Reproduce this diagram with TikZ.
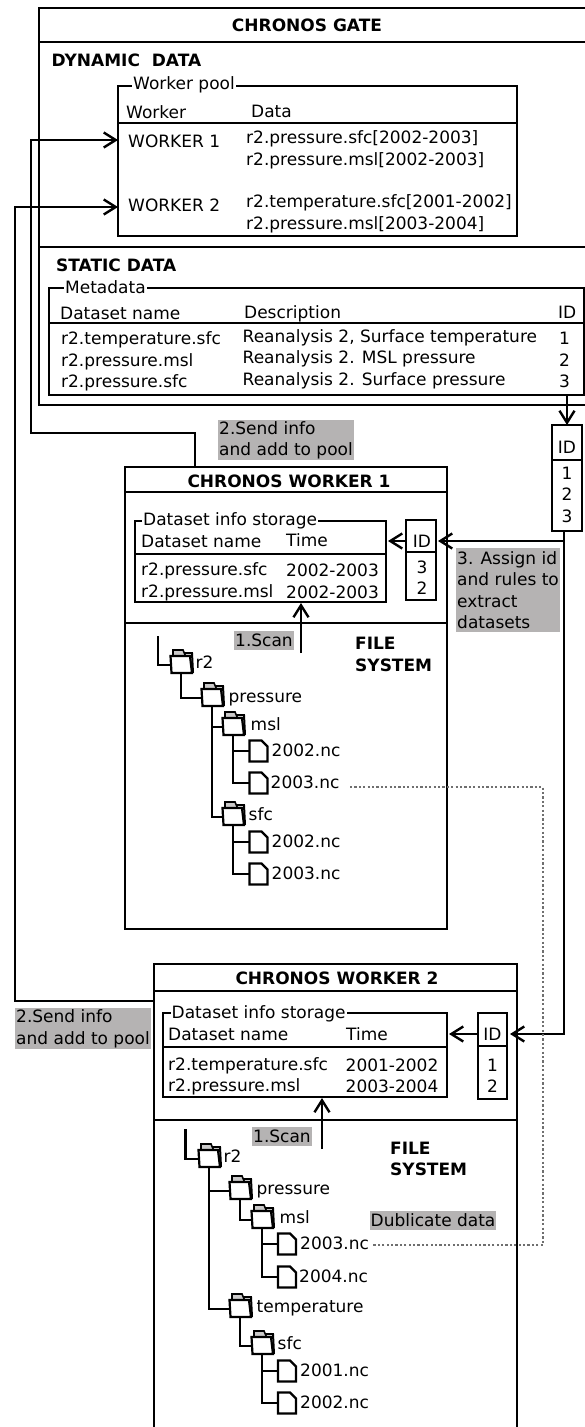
\documentclass[tikz,border=0pt]{standalone}
\usepackage{fontspec}
\setmainfont{DejaVu Sans}
\usepackage{tikz}
\usetikzlibrary{arrows.meta,positioning}
\definecolor{clNote}{HTML}{B5B3B3}
\definecolor{clDup}{HTML}{6F6F6F}
\tikzset{
  panel/.style={rectangle, draw, line width=2.6pt, inner sep=0pt, outer sep=0pt},
  celltext/.style={anchor=west, inner sep=0pt, text height=12.6pt, text depth=0pt,
                   font=\fontsize{17}{21.4}\selectfont},
  idtext/.style={celltext, anchor=center},
  boldtext/.style={celltext, font=\fontsize{17}{21.4}\selectfont\bfseries},
  legendtext/.style={celltext, fill=white, inner xsep=1pt, text depth=2pt},
  titletext/.style={panel, font=\fontsize{17}{21.4}\selectfont\bfseries},
  notetext/.style={anchor=north west, fill=clNote, inner xsep=1pt, inner ysep=0pt, align=left,
                   font=\fontsize{17}{21.4}\selectfont},
  scannote/.style={celltext, anchor=north west, fill=clNote, inner xsep=1pt, inner ysep=3pt},
  treetext/.style={celltext, yshift=3pt},
  filetext/.style={celltext, yshift=1pt},
  flow/.style={-{Straight Barb[length=12pt,width=15pt,line width=2.4pt]}, line width=2.6pt},
  treeline/.style={line width=2.4pt},
  dupline/.style={draw=clDup, line width=2.6pt, dash pattern=on 2.2pt off 2.2pt},
  folderpic/.pic={
    \draw[line width=1.6pt, fill=clNote!70] (-8,-8) -- (-8,-15) -- (2,-15) -- (5,-8) -- cycle;
    \draw[line width=2pt] (3,-12) -- (11,-12) -- (12,8);
    \node[rectangle, minimum width=21pt, minimum height=17pt, inner sep=0pt, outer sep=0pt] (-box) {};
    \draw[line width=2.2pt, fill=white] (-10.5,-9) -- (9,-9) -- (11,8) -- (-9.5,8) -- cycle;
  },
  filepic/.pic={
    \node[rectangle, minimum width=18pt, minimum height=21pt, inner sep=0pt, outer sep=0pt] (-box) {};
    \draw[line width=2.3pt, fill=white] (-box.south west) -- (-box.north west)
      -- ([xshift=-6pt]-box.north east) -- ([yshift=-6pt]-box.north east) -- (-box.south east) -- cycle;
  },
}
\begin{document}
\begin{tikzpicture}[x=1pt, y=-1pt]
  \path[use as bounding box, clip] (0,0) rectangle (585,1427);
  % gate
  \node[titletext, anchor=north west, minimum width=551pt, minimum height=34pt] (gatetitle) at (39,8) {};
  \node[titletext] (gatename) at (307,25) [draw=none] {CHRONOS GATE};
  \node[panel, below=0pt of gatetitle, minimum width=551pt, minimum height=205pt] (gatedyn) {};
  \node[panel, below=0pt of gatedyn, minimum width=551pt, minimum height=158pt] (gatestatic) {};
  \node[boldtext] (dyntitle) at (51.5,60) {DYNAMIC~~DATA};
  \node[boldtext] (stattitle) at (56,265) {STATIC DATA};
  % worker pool
  \node[panel, anchor=north west, minimum width=399pt, minimum height=37pt] (poolhead) at (118,86) {};
  \node[panel, below=0pt of poolhead, minimum width=399pt, minimum height=113pt] (poolbody) {};
  \node[legendtext] (poolname) at (132,84) {Worker pool};
  \node[celltext] (poolworker) at (126,112) {Worker};
  \node[celltext] (pooldata) at (251,111) {Data};
  \node[celltext] (wkone) at (128,141) {WORKER 1};
  \node[celltext] (wktwo) at (128,205) {WORKER 2};
  \node[celltext] (wkonea) at (246,137) {r2.pressure.sfc[2002-2003]};
  \node[celltext] (wkoneb) at (246,159) {r2.pressure.msl[2002-2003]};
  \node[celltext] (wktwoa) at (246,201) {r2.temperature.sfc[2001-2002]};
  \node[celltext] (wktwob) at (246,223) {r2.pressure.msl[2003-2004]};
  % metadata
  \node[panel, anchor=north west, minimum width=535pt, minimum height=35pt] (metahead) at (49,288) {};
  \node[panel, below=0pt of metahead, minimum width=535pt, minimum height=72pt] (metabody) {};
  \node[legendtext] (metaname) at (64,288) {Metadata};
  \node[celltext] (metaset) at (60,313) {Dataset name};
  \node[celltext] (metadesc) at (244,312) {Description};
  \node[celltext] (metaid) at (558,312) {ID};
  \node[celltext] (metaseta) at (61,338) {r2.temperature.sfc};
  \node[celltext] (metasetb) at (61,360) {r2.pressure.msl};
  \node[celltext] (metasetc) at (61,381) {r2.pressure.sfc};
  \node[celltext] (metadesca) at (242.5,336) {Reanalysis 2, Surface temperature};
  \node[celltext] (metadescb) at (242.5,357) {Reanalysis 2. MSL pressure};
  \node[celltext] (metadescc) at (242.5,379) {Reanalysis 2. Surface pressure};
  \node[idtext] (metaida) at (564.5,338) {1};
  \node[idtext] (metaidb) at (564.5,360) {2};
  \node[idtext] (metaidc) at (564.5,381) {3};
  % id list of the gate
  \node[panel, anchor=north west, minimum width=30pt, minimum height=35pt] (gateidhead) at (552,425) {};
  \node[panel, below=0pt of gateidhead, minimum width=30pt, minimum height=71pt] (gateidbody) {};
  \node[idtext] (gateidname) at (567,447) {ID};
  \node[idtext] (gateida) at (567,473) {1};
  \node[idtext] (gateidb) at (567,494) {2};
  \node[idtext] (gateidc) at (567,516) {3};
  \node[notetext, minimum width=134pt, minimum height=40pt] (sendone) at (218,420) {2.Send info\\and add to pool};
  % worker 1
  \node[titletext, anchor=north west, minimum width=322pt, minimum height=25pt] (oneTitle) at (125,467) {};
  \node[titletext, draw=none] (onename) at (289,481) {CHRONOS WORKER 1};
  \node[panel, below=0pt of oneTitle, minimum width=322pt, minimum height=131pt] (onestore) {};
  \node[panel, below=0pt of onestore, minimum width=322pt, minimum height=306pt] (onefs) {};
  \node[panel, anchor=north west, minimum width=251pt, minimum height=33pt] (oneinfohead) at (135,521) {};
  \node[panel, below=0pt of oneinfohead, minimum width=251pt, minimum height=48pt] (oneinfobody) {};
  \node[legendtext] (oneinfoname) at (142,520) {Dataset info storage};
  \node[celltext] (oneset) at (141,541) {Dataset name};
  \node[celltext] (onetime) at (286,540) {Time};
  \node[celltext] (oneseta) at (141,569) {r2.pressure.sfc};
  \node[celltext] (onesetb) at (141,591) {r2.pressure.msl};
  \node[celltext] (onetimea) at (286,570) {2002-2003};
  \node[celltext] (onetimeb) at (286,592) {2002-2003};
  \node[panel, anchor=north west, minimum width=30pt, minimum height=32pt] (oneidhead) at (406,520) {};
  \node[panel, below=0pt of oneidhead, minimum width=30pt, minimum height=48pt] (oneidbody) {};
  \node[idtext] (oneidname) at (422,541) {ID};
  \node[idtext] (oneida) at (422,567) {3};
  \node[idtext] (oneidb) at (422,588) {2};
  \node[notetext, minimum width=101pt, minimum height=84pt] (assign) at (456,548) {3. Assign id\\and rules to\\extract\\datasets};
  \node[scannote] (onescan) at (234,631) {1.Scan};
  \node[boldtext] (onefsa) at (355,643) {FILE};
  \node[boldtext] (onefsb) at (355,665) {SYSTEM};
  % tree of worker 1
  \pic (ra) at (181,665) {folderpic};
  \pic (pa) at (212,698) {folderpic};
  \pic (ma) at (233,727) {folderpic};
  \pic (sa) at (233,817) {folderpic};
  \pic (fa) at (258.5,751) {filepic};
  \pic (fb) at (258.5,783) {filepic};
  \pic (fc) at (258.5,842) {filepic};
  \pic (fd) at (258.5,874) {filepic};
  \node[treetext, right=4pt of ra-box] (ralab) {r2};
  \node[treetext, right=6pt of pa-box, yshift=-1pt] (palab) {pressure};
  \node[treetext, right=7pt of ma-box] (malab) {msl};
  \node[treetext, right=5pt of sa-box] (salab) {sfc};
  \node[filetext, right=4pt of fa-box] (falab) {2002.nc};
  \node[filetext, right=3pt of fb-box] (fblab) {2003.nc};
  \node[filetext, right=4pt of fc-box] (fclab) {2002.nc};
  \node[filetext, right=4pt of fd-box] (fdlab) {2003.nc};
  % worker 2
  \node[titletext, anchor=north west, minimum width=363pt, minimum height=27pt] (twoTitle) at (154,964) {};
  \node[titletext, draw=none] (twoname) at (337,978) {CHRONOS WORKER 2};
  \node[panel, below=0pt of twoTitle, minimum width=363pt, minimum height=129pt] (twostore) {};
  \node[panel, below=0pt of twostore, minimum width=363pt, minimum height=350pt] (twofs) {};
  \node[panel, anchor=north west, minimum width=284pt, minimum height=34pt] (twoinfohead) at (163,1013) {};
  \node[panel, below=0pt of twoinfohead, minimum width=284pt, minimum height=50pt] (twoinfobody) {};
  \node[legendtext] (twoinfoname) at (170.5,1013) {Dataset info storage};
  \node[celltext] (twoset) at (168,1034) {Dataset name};
  \node[celltext] (twotime) at (346,1034) {Time};
  \node[celltext] (twoseta) at (168,1064) {r2.temperature.sfc};
  \node[celltext] (twosetb) at (168,1085) {r2.pressure.msl};
  \node[celltext] (twotimea) at (345.5,1065) {2001-2002};
  \node[celltext] (twotimeb) at (345.5,1086) {2003-2004};
  \node[panel, anchor=north west, minimum width=29pt, minimum height=33pt] (twoidhead) at (478,1013) {};
  \node[panel, below=0pt of twoidhead, minimum width=29pt, minimum height=53pt] (twoidbody) {};
  \node[idtext] (twoidname) at (492.5,1034) {ID};
  \node[idtext] (twoida) at (492.5,1065) {1};
  \node[idtext] (twoidb) at (492.5,1086) {2};
  \node[notetext, minimum width=134pt, minimum height=41pt] (sendtwo) at (15,1008) {2.Send info\\and add to pool};
  \node[scannote] (twoscan) at (252,1127) {1.Scan};
  \node[boldtext] (twofsa) at (390,1148) {FILE};
  \node[boldtext] (twofsb) at (390,1169) {SYSTEM};
  \node[scannote] (dupnote) at (369.5,1211) {Dublicate data};
  % tree of worker 2
  \pic (rb) at (209,1159) {folderpic};
  \pic (pb) at (240,1191) {folderpic};
  \pic (mb) at (262,1220) {folderpic};
  \pic (tb) at (240,1309) {folderpic};
  \pic (sb) at (262,1346) {folderpic};
  \pic (ga) at (287,1244) {filepic};
  \pic (gb) at (287,1277) {filepic};
  \pic (gc) at (287,1371) {filepic};
  \pic (gd) at (287,1403) {filepic};
  \node[treetext, right=4pt of rb-box] (rblab) {r2};
  \node[treetext, right=6pt of pb-box] (pblab) {pressure};
  \node[treetext, right=7pt of mb-box] (mblab) {msl};
  \node[treetext, right=6pt of tb-box] (tblab) {temperature};
  \node[treetext, right=5pt of sb-box] (sblab) {sfc};
  \node[filetext, right=4pt of ga-box] (galab) {2003.nc};
  \node[filetext, right=3pt of gb-box] (gblab) {2004.nc};
  \node[filetext, right=4pt of gc-box] (gclab) {2001.nc};
  \node[filetext, right=4pt of gd-box] (gdlab) {2002.nc};
  % tree lines
  \coordinate (stuba) at (158,636);
  \coordinate (stubb) at (185.5,1129);
  \draw[treeline] (stuba) |- (ra-box.west);
  \draw[treeline] (ra-box.south) |- (pa-box.west);
  \draw[treeline] (pa-box.south) |- (sa-box.west);
  \draw[treeline] (pa-box.south |- ma-box.west) -- (ma-box.west);
  \draw[treeline] (ma-box.south) |- (fb-box.west);
  \draw[treeline] (ma-box.south |- fa-box.west) -- (fa-box.west);
  \draw[treeline] (sa-box.south) |- (fd-box.west);
  \draw[treeline] (sa-box.south |- fc-box.west) -- (fc-box.west);
  \draw[treeline] (stubb) |- (rb-box.west);
  \draw[treeline] (rb-box.south) |- (tb-box.west);
  \draw[treeline] (rb-box.south |- pb-box.west) -- (pb-box.west);
  \draw[treeline] (pb-box.south) |- (mb-box.west);
  \draw[treeline] (mb-box.south) |- (gb-box.west);
  \draw[treeline] (mb-box.south |- ga-box.west) -- (ga-box.west);
  \draw[treeline] (tb-box.south) |- (sb-box.west);
  \draw[treeline] (sb-box.south) |- (gd-box.west);
  \draw[treeline] (sb-box.south |- gc-box.west) -- (gc-box.west);
  % connectors
  \coordinate (busone) at (31,433);
  \coordinate (bustwo) at (15,1001);
  \coordinate (sendfoot) at (195,467);
  \coordinate (trunk) at (564,531);
  \coordinate (poolone) at (118,140);
  \coordinate (pooltwo) at (118,207);
  \coordinate (dupstart) at (350,787);
  \coordinate (dupturn) at (543,1245);
  \coordinate (dupend) at (373,1245);
  \coordinate (scanfoota) at (301,653);
  \coordinate (scanfootb) at (322,1149);
  \draw[flow] (sendfoot) |- (busone) |- (poolone);
  \draw[flow] (twoTitle.west |- bustwo) -- (bustwo) |- (pooltwo);
  \draw[flow] (metabody.south -| gateidhead.north) -- (gateidhead.north);
  \draw[flow, shorten >=3pt] (trunk) |- (twoidhead.east |- twoidname);
  \draw[flow, shorten >=2pt] (trunk |- oneidname) -- (oneidhead.east |- oneidname);
  \draw[flow, shorten >=2pt] (oneidhead.west |- oneidname) -- (oneinfohead.east |- oneidname);
  \draw[flow, shorten >=2pt] (twoidhead.west |- twoidname) -- (twoinfohead.east |- twoidname);
  \draw[flow, shorten >=1pt] (scanfoota) -- (scanfoota |- oneinfobody.south);
  \draw[flow, shorten >=1pt] (scanfootb) -- (scanfootb |- twoinfobody.south);
  \draw[dupline] (dupstart) -| (dupturn) -- (dupend);
\end{tikzpicture}
\end{document}
